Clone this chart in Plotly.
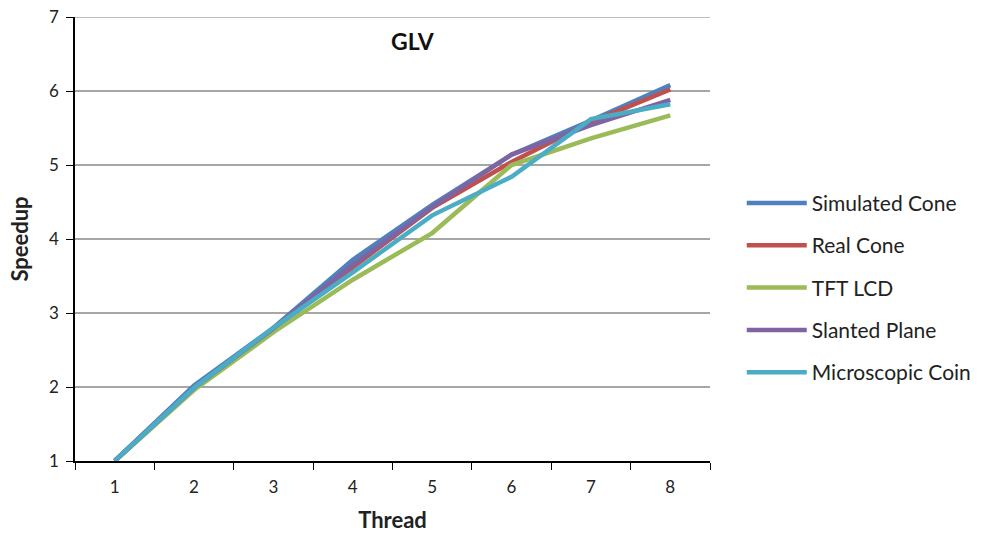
import plotly.graph_objects as go

threads = ["1", "2", "3", "4", "5", "6", "7", "8"]
series_names = ["Simulated Cone", "Real Cone", "TFT LCD", "Slanted Plane", "Microscopic Coin"]
simulated_cone = [1.0, 2.02, 2.80, 3.72, 4.46, 5.14, 5.60, 6.08]
real_cone = [1.0, 1.98, 2.78, 3.62, 4.42, 5.04, 5.58, 6.02]
tft_lcd = [1.0, 1.96, 2.74, 3.45, 4.08, 5.00, 5.36, 5.67]
slanted_plane = [1.0, 1.99, 2.79, 3.65, 4.43, 5.14, 5.54, 5.88]
microscopic_coin = [1.0, 1.99, 2.80, 3.55, 4.32, 4.84, 5.62, 5.82]
colors = ["#4F81BD", "#C0504D", "#9BBB59", "#8064A2", "#4BACC6"]
y_ticks = [1, 2, 3, 4, 5, 6, 7]

fig = go.Figure()
for name, vals, col in zip(series_names,
                           [simulated_cone, real_cone, tft_lcd, slanted_plane, microscopic_coin],
                           colors):
    fig.add_trace(go.Scatter(x=threads, y=vals, name=name, mode="lines",
                             legendgroup=name,
                             line=dict(color=col, width=4.5)))

# top gridline (at y = 7)
fig.add_shape(type="line", xref="paper", yref="y", x0=0, x1=1, y0=7, y1=7,
              line=dict(color="#A6A6A6", width=1.5), layer="below")

font_family = "Lato, Open Sans, sans-serif"
fig.update_layout(
    width=991, height=533,
    margin=dict(l=75, r=281, t=17, b=72),
    plot_bgcolor="white", paper_bgcolor="white",
    font=dict(family=font_family, color="#222222", size=17),
    showlegend=True,
    legend=dict(x=1.05, y=0.39, xanchor="left", yanchor="middle",
                font=dict(size=21, color="#222222"),
                traceorder="grouped", tracegroupgap=12,
                itemwidth=60),
    annotations=[dict(text="<b>GLV</b>", x=(413 - 75) / 635, y=(461 - 41) / 444,
                      xref="paper", yref="paper", xanchor="center", yanchor="middle",
                      showarrow=False, font=dict(size=23, color="#111111"))],
    xaxis=dict(type="category", tickson="boundaries", ticks="outside", ticklen=7,
               range=[-0.5, 7.5], automargin=False,
               tickcolor="black", showline=True, linecolor="black", linewidth=1.5,
               showgrid=False, ticklabelstandoff=10,
               title=dict(text="<b>Thread</b>", font=dict(size=22), standoff=18),
               tickfont=dict(size=17)),
    yaxis=dict(range=[1, 7], tickvals=y_ticks, ticks="outside", ticklen=7,
               automargin=False,
               tickcolor="black", showline=True, linecolor="black", linewidth=1.5,
               showgrid=True, gridcolor="#A6A6A6", gridwidth=1.5,
               ticklabelstandoff=4,
               title=dict(text="<b>Speedup</b>", font=dict(size=22), standoff=14),
               tickfont=dict(size=17), zeroline=False),
)
fig.write_html("out.html")
